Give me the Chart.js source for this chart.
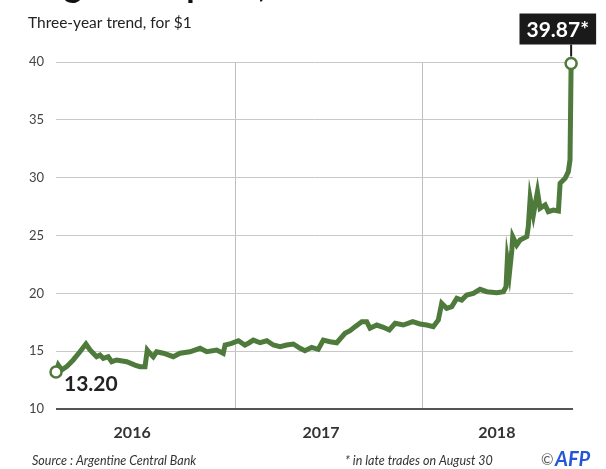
<!DOCTYPE html>
<html>
<head>
<meta charset="utf-8">
<script src="https://cdn.jsdelivr.net/npm/chart.js@4/dist/chart.umd.min.js"></script>
<style>
  body { margin: 0; background: #fff; }
  canvas { display: block; }
</style>
</head>
<body>
<canvas id="chart" width="606" height="469"></canvas>
<script>
// Peso per dollar (x in fractional years)
const dates = [
  2016.043, 2016.055, 2016.073, 2016.100, 2016.135, 2016.171, 2016.203, 2016.225,
  2016.242, 2016.260, 2016.278, 2016.296, 2016.322, 2016.341, 2016.367, 2016.421,
  2016.465, 2016.492, 2016.519, 2016.531, 2016.545, 2016.563, 2016.581, 2016.617,
  2016.670, 2016.706, 2016.759, 2016.813, 2016.849, 2016.902, 2016.937, 2016.947,
  2016.982, 2017.018, 2017.053, 2017.076, 2017.098, 2017.134, 2017.170, 2017.205,
  2017.241, 2017.276, 2017.312, 2017.348, 2017.374, 2017.410, 2017.445, 2017.472,
  2017.508, 2017.544, 2017.588, 2017.615, 2017.642, 2017.678, 2017.704, 2017.722,
  2017.758, 2017.793, 2017.825, 2017.856, 2017.900, 2017.950, 2017.989, 2018.025,
  2018.060, 2018.087, 2018.105, 2018.132, 2018.159, 2018.186, 2018.212, 2018.239,
  2018.274, 2018.310, 2018.346, 2018.399, 2018.435, 2018.449, 2018.456, 2018.467,
  2018.480, 2018.485, 2018.506, 2018.524, 2018.560, 2018.568, 2018.578, 2018.595,
  2018.617, 2018.631, 2018.658, 2018.675, 2018.702, 2018.729, 2018.738, 2018.765,
  2018.782, 2018.791, 2018.797
];
const rates = [
  13.20, 13.80, 13.37, 13.66, 14.24, 14.95, 15.62, 15.10,
  14.82, 14.52, 14.67, 14.38, 14.52, 14.09, 14.24, 14.09,
  13.80, 13.66, 13.66, 15.10, 14.82, 14.52, 14.95, 14.82,
  14.52, 14.82, 14.95, 15.25, 14.95, 15.10, 14.82, 15.53,
  15.67, 15.90, 15.53, 15.73, 15.96, 15.73, 15.90, 15.53,
  15.39, 15.53, 15.62, 15.25, 15.04, 15.33, 15.16, 15.96,
  15.82, 15.73, 16.54, 16.77, 17.12, 17.55, 17.55, 16.98,
  17.26, 17.06, 16.83, 17.41, 17.26, 17.55, 17.35, 17.26,
  17.12, 17.69, 19.14, 18.70, 18.85, 19.57, 19.42, 19.86,
  20.00, 20.35, 20.14, 20.05, 20.14, 20.57, 22.88, 21.73,
  23.75, 24.90, 24.18, 24.61, 24.90, 25.76, 28.22, 26.77,
  28.79, 27.35, 27.64, 27.06, 27.20, 27.12, 29.51, 29.95,
  30.52, 31.53, 39.87
];

const yearBreaks = [2017, 2018];
const yearLabels = ['2016', '2017', '2018'];
const yearLabelPos = [2016.45, 2017.46, 2018.40];

const green = '#4e7a3b';
const font = 'Lato';

const last = rates.length - 1;

// Texts around the chart and the two value labels
const decorations = {
  id: 'decorations',
  afterDraw(chart) {
    const ctx = chart.ctx;
    ctx.save();
    // title, cut off at the top
    ctx.fillStyle = '#111';
    ctx.font = 'bold 34px ' + font;
    ctx.textBaseline = 'alphabetic';
    ctx.fillText('Argentine peso,', 28, -3);
    ctx.font = '15.5px ' + font;
    ctx.fillStyle = '#222';
    ctx.fillText('Three-year trend, for $1', 28, 28);

    // footer
    ctx.font = 'italic 12.5px ' + font;
    ctx.fillStyle = '#333';
    ctx.fillText('Source : Argentine Central Bank', 32, 465);
    ctx.fillText('* in late trades on August 30', 345, 465);
    ctx.font = '15px ' + font;
    ctx.fillStyle = '#555';
    ctx.fillText('\u00A9', 541, 465);
    ctx.font = 'bold italic 20px ' + font;
    ctx.fillStyle = '#2456d6';
    ctx.fillText('AFP', 555, 466);

    // value labels
    const meta = chart.getDatasetMeta(0);
    const p0 = meta.data[0];
    const p1 = meta.data[last];
    ctx.font = 'bold 21px ' + font;
    ctx.fillStyle = '#222';
    ctx.fillText(rates[0].toFixed(2), p0.x + 8, p0.y + 19);

    const txt = rates[last].toFixed(2) + '*';
    ctx.font = 'bold 21px ' + font;
    const w = ctx.measureText(txt).width + 14;
    const bottom = p1.y - 19;
    const right = p1.x + 25;
    ctx.strokeStyle = '#1a1a1a';
    ctx.lineWidth = 2;
    ctx.beginPath();
    ctx.moveTo(p1.x, bottom);
    ctx.lineTo(p1.x, p1.y - 7);
    ctx.stroke();
    ctx.fillStyle = '#1a1a1a';
    ctx.fillRect(right - w, bottom - 31, w, 31);
    ctx.fillStyle = '#fff';
    ctx.textAlign = 'center';
    ctx.fillText(txt, right - w / 2, bottom - 8);
    ctx.restore();
  }
};

const config = {
  type: 'line',
  data: {
    datasets: [{
      data: dates.map((d, i) => ({ x: d, y: rates[i] })),
      borderColor: green,
      borderWidth: 5,
      tension: 0,
      clip: false,
      pointRadius: ctx => (ctx.dataIndex === 0 || ctx.dataIndex === last) ? 5.5 : 0,
      pointBackgroundColor: '#fff',
      pointBorderColor: green,
      pointBorderWidth: 2.5,
    }]
  },
  options: {
    responsive: false,
    animation: false,
    layout: { padding: { left: 0, right: 33, top: 62, bottom: 0 } },
    plugins: { legend: { display: false }, tooltip: { enabled: false } },
    scales: {
      x: {
        type: 'linear',
        min: 2016.043,
        max: 2018.807,
        afterBuildTicks: scale => {
          scale.ticks = yearBreaks.concat(yearLabelPos).sort().map(v => ({ value: v }));
        },
        afterFit: scale => { scale.height = 60; },
        border: { display: false },
        grid: {
          drawTicks: false,
          color: ctx => yearBreaks.includes(ctx.tick.value) ? '#bdbdbd' : 'rgba(0,0,0,0)',
          lineWidth: 1,
        },
        ticks: {
          autoSkip: false,
          maxRotation: 0,
          padding: 14,
          color: '#333',
          font: { family: font, size: 16, weight: 'bold' },
          callback: value => {
            const i = yearLabelPos.indexOf(value);
            return i >= 0 ? yearLabels[i] : '';
          }
        }
      },
      y: {
        min: 10,
        max: 40,
        afterFit: scale => { scale.width = 56; },
        border: { display: false },
        grid: {
          drawTicks: false,
          color: ctx => ctx.tick.value === 10 ? '#555' : '#c8c8c8',
          lineWidth: ctx => ctx.tick.value === 10 ? 2 : 1,
        },
        ticks: {
          stepSize: 5,
          padding: 12,
          color: '#444',
          font: { family: font, size: 13 },
        }
      }
    }
  },
  plugins: [decorations]
};

const chart = new Chart(document.getElementById('chart'), config);
</script>
</body>
</html>
